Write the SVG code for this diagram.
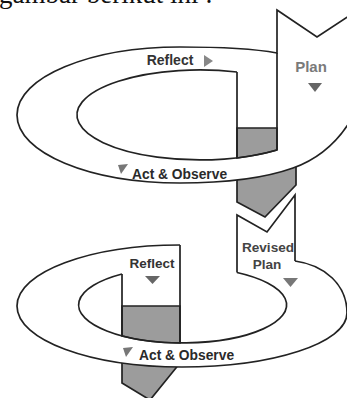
<svg xmlns="http://www.w3.org/2000/svg" width="347" height="398" viewBox="0 0 347 398">
<style>
.ln{fill:none;stroke:#222;stroke-width:1.7;stroke-linejoin:miter}
.wf{fill:#fff;stroke:#222;stroke-width:1.7}
.gf{fill:#9c9c9c;stroke:#222;stroke-width:1.7}
.t{font-family:"Liberation Sans",Arial,sans-serif;font-weight:bold}
.tri{stroke:none}
</style>
<rect width="347" height="398" fill="#fff"/>
<text x="-1" y="3" font-family="'Liberation Serif','Times New Roman',serif" font-size="27" fill="#111">gambar berikut ini :</text>

<g id="loop1">
  <path class="gf" d="M237,150 H296 V185 L265,217 L237,202 Z"/>
  <path class="wf" d="M277,10 L317,37 L352,14 L352,118 C338,142 318,159 293,168 C265,178 225,183 180,183 C90,183 17,153 17,115 C17,77 90,47 180,47 C215,47 250,48 277,53 Z"/>
  <path class="gf" d="M237,128 H277 V150 A123,45 0 0 1 237,158 Z"/>
  <path class="ln" d="M237,72 A123,45 0 1 0 277,150"/>
  <path class="ln" d="M277,53 V150 M237,72 V158"/>
</g>

<g id="loop2">
  <path class="gf" d="M122,330 H180 V363 L150,400 L122,383 Z"/>
  <path fill="#fff" stroke="none" d="M180,245 C90,245 17,272 17,306 C17,340 90,367 182,367 C273,367 347,343 347,313 C347,285 325,265 295,261 Z"/>
  <path class="gf" d="M122,306 H180 V343 A104,38 0 0 1 122,336 Z"/>
  <path class="ln" d="M180,245 C90,245 17,272 17,306 C17,340 90,367 182,367 C273,367 347,343 347,313 C347,285 325,265 295,261"/>
  <path class="ln" d="M122,274 A104,38 0 1 0 237,272.5"/>
  <path class="ln" d="M122,274 V336 M180,245 V343"/>
</g>

<g id="revised-plan">
  <path class="ln" d="M237,272.5 V215 L267,232 L295,195 V261"/>
</g>

<g id="labels">
  <text class="t" x="170" y="65" font-size="14" text-anchor="middle" fill="#333">Reflect</text>
  <polygon class="tri" points="204,55 213,61 204,67" fill="#888"/>
  <text class="t" x="311" y="72" font-size="15" text-anchor="middle" fill="#7a7a7a">Plan</text>
  <polygon class="tri" points="308,83 322,83 315,92" fill="#666"/>
  <text class="t" x="132" y="179" font-size="13.8" fill="#2a2a2a">Act &amp; Observe</text>
  <polygon class="tri" points="118,165 128,164 121,174" fill="#777"/>

  <text class="t" x="152" y="268" font-size="13.5" text-anchor="middle" fill="#333">Reflect</text>
  <polygon class="tri" points="145,276 160,276 152.5,284" fill="#666"/>
  <text class="t" x="268" y="252" font-size="13.6" text-anchor="middle" fill="#444">Revised</text>
  <text class="t" x="267" y="269" font-size="13.6" text-anchor="middle" fill="#444">Plan</text>
  <polygon class="tri" points="283,278 298,278 290.5,287" fill="#777"/>
  <text class="t" x="139" y="360" font-size="13.8" fill="#2a2a2a">Act &amp; Observe</text>
  <polygon class="tri" points="123,348 133,347 126,357" fill="#777"/>
</g>
</svg>
